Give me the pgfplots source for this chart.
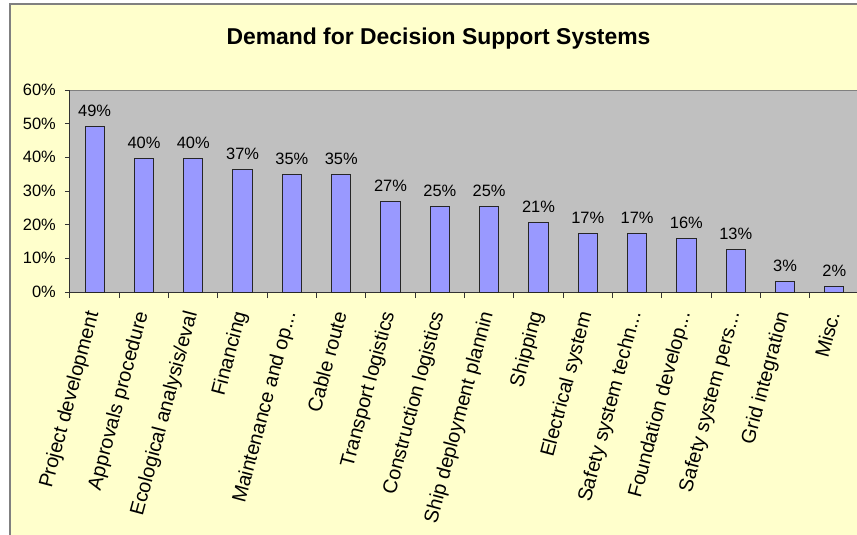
\documentclass[border=0pt]{standalone}
\usepackage{pgfplots}
\pgfplotsset{compat=1.18}
\usepackage{fontspec}
\setmainfont{Liberation Sans}
\definecolor{chartbg}{HTML}{FFFFCC}
\definecolor{plotbg}{HTML}{C0C0C0}
\definecolor{barfill}{HTML}{9999FF}
\definecolor{framegray}{HTML}{808080}
\newcommand{\dd}{.\kern0pt.\kern0pt.}
\begin{document}
\begin{tikzpicture}
\path[use as bounding box, fill=white] (-70bp,-243bp) rectangle (787bp,292bp);
\fill[chartbg] (-60bp,-260bp) rectangle (800bp,288bp);
\draw[framegray, line width=1.2bp] (-60bp,-260bp) -- (-60bp,288bp) -- (800bp,288bp);
\begin{axis}[
  scale only axis, width=789bp, height=202bp,
  xmin=-0.5, xmax=15.5, ymin=0, ymax=60,
  ybar, bar width=0.39,
  axis background/.style={fill=plotbg, draw=framegray, line width=1bp},
  axis x line*=bottom, axis y line*=left,
  axis line style={draw=black!80, line width=1bp},
  every outer x axis line/.append style={-}, every outer y axis line/.append style={-},
  tick align=outside,
  ytick={0,10,...,60},
  yticklabel={\pgfmathprintnumber{\tick}\%},
  /pgf/number format/assume math mode=true,
  yticklabel style={font=\fontsize{16.5}{16.5}\selectfont, anchor=east, inner sep=0pt, xshift=-9bp},
  major tick length=5bp,
  ytick style={draw=black!80, line width=1bp},
  xtick={0,1,2,3,4,5,6,7,8,9,10,11,12,13,14,15},
  xticklabels={{Project development}, {Approvals procedure}, {Ecological analysis/eval}, {Financing}, {Maintenance and op\dd}, {Cable route}, {Transport logistics}, {Construction logistics}, {Ship deployment plannin}, {Shipping}, {Electrical system}, {Safety system techn\dd}, {Foundation develop\dd}, {Safety system pers\dd}, {Grid integration}, {Misc.}},
  major x tick style={draw=none},
  minor xtick={-0.5,0.5,1.5,2.5,3.5,4.5,5.5,6.5,7.5,8.5,9.5,10.5,11.5,12.5,13.5,14.5,15.5},
  minor x tick style={draw=black!80, line width=1bp},
  minor tick length=6bp,
  xticklabel style={font=\fontsize{20}{20}\selectfont, xshift=-1bp, yshift=-15bp, rotate=75, anchor=east, inner sep=0pt},
  title={Demand for Decision Support Systems},
  title style={font=\bfseries\fontsize{23}{23}\selectfont, at={(0.5,1)}, anchor=base, xshift=-26bp, yshift=40bp},
  nodes near coords={\pgfmathprintnumber[fixed,precision=0]{\pgfplotspointmeta}\%},
  nodes near coords style={font=\fontsize{16.5}{16.5}\selectfont, anchor=base, inner sep=0pt, yshift=10bp},
  clip=false,
]
\addplot[fill=barfill, draw=black!85, line width=1bp] coordinates {
 (0,49.21) (1,39.68) (2,39.68) (3,36.51) (4,34.92) (5,34.92) (6,26.98) (7,25.40)
 (8,25.40) (9,20.63) (10,17.46) (11,17.46) (12,15.87) (13,12.70) (14,3.17) (15,1.59)
};
\end{axis}
\end{tikzpicture}
\end{document}
